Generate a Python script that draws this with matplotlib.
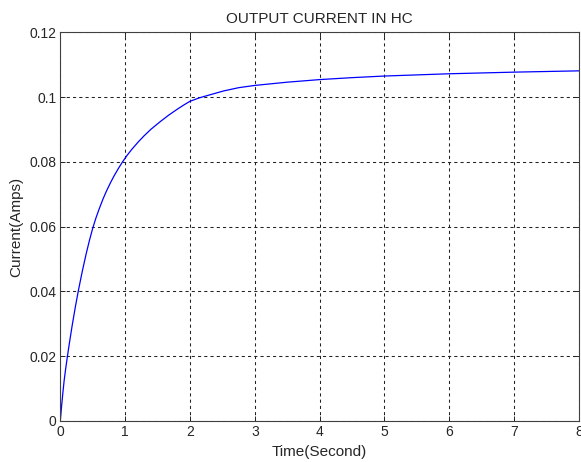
import matplotlib
matplotlib.use("Agg")
import matplotlib.pyplot as plt

# Output current of the HC circuit (time in s, current in A)
time_s = [0.00, 0.02, 0.04, 0.06, 0.08, 0.11, 0.14, 0.18, 0.23, 0.28, 0.34,
          0.40, 0.45, 0.50, 0.55, 0.60, 0.66, 0.71, 0.77, 0.83, 0.90, 0.96,
          1.03, 1.10, 1.20, 1.29, 1.40, 1.54, 1.67, 1.80, 1.90, 2.00, 2.15,
          2.29, 2.52, 2.75, 3.00, 3.50, 4.00, 4.50, 5.00, 6.00, 7.00, 8.00]
current_a = [0.0000, 0.0046, 0.0088, 0.0126, 0.0157, 0.0200, 0.0240, 0.0291,
             0.0350, 0.0404, 0.0463, 0.0517, 0.0558, 0.0595, 0.0627, 0.0655,
             0.0686, 0.0709, 0.0734, 0.0757, 0.0781, 0.0800, 0.0820, 0.0838,
             0.0861, 0.0880, 0.0901, 0.0924, 0.0944, 0.0962, 0.0975, 0.0987,
             0.0998, 0.1006, 0.1019, 0.1029, 0.1036, 0.1046, 0.1054, 0.1060,
             0.1065, 0.1072, 0.1077, 0.1081]

x_ticks = [0, 1, 2, 3, 4, 5, 6, 7, 8]
y_ticks = [0, 0.02, 0.04, 0.06, 0.08, 0.1, 0.12]
y_tick_labels = ["0", "0.02", "0.04", "0.06", "0.08", "0.1", "0.12"]

plt.rcParams["font.family"] = ["Liberation Sans", "DejaVu Sans"]

fig = plt.figure(figsize=(5.81, 4.62), dpi=100)
ax = fig.add_axes([60.3 / 581, 41 / 462, (579 - 60.3) / 581, (421 - 32.3) / 462])

ax.plot(time_s, current_a, color="#0000ff", linewidth=0.9)

ax.set_xlim(0, 8)
ax.set_ylim(0, 0.12)
ax.set_xticks(x_ticks)
ax.set_xticklabels([str(t) for t in x_ticks])
ax.set_yticks(y_ticks)
ax.set_yticklabels(y_tick_labels)

ax.grid(True, color="#222222", linestyle=(0, (3, 3)), linewidth=0.75)
ax.tick_params(direction="in", length=3.5, width=0.7, top=True, right=True,
               labelsize=10, colors="#262626", pad=3)
for spine in ax.spines.values():
    spine.set_color("#404040")
    spine.set_linewidth(0.8)

ax.set_title("OUTPUT CURRENT IN HC", fontsize=11, color="#262626", pad=7)
ax.set_xlabel("Time(Second)", fontsize=11, color="#262626", labelpad=4)
ax.set_ylabel("Current(Amps)", fontsize=11, color="#262626", labelpad=4)

fig.savefig("out.png", dpi=100)
